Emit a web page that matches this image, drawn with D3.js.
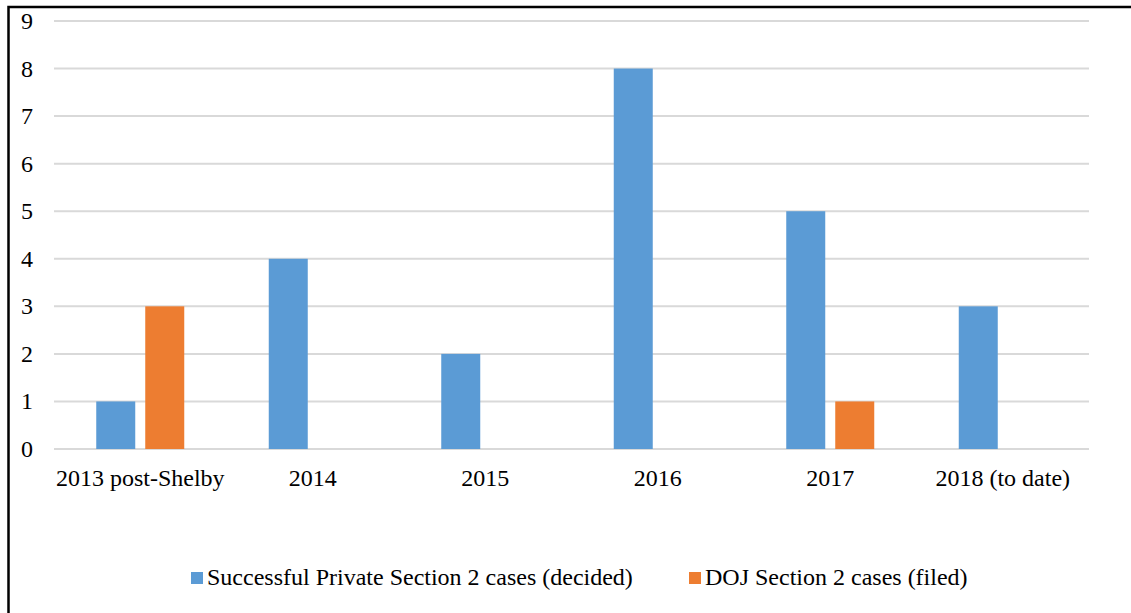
<!DOCTYPE html>
<html lang="en">
<head>
<meta charset="UTF-8">
<title>Section 2 cases</title>
<script src="https://d3js.org/d3.v7.min.js"></script>
<style>
    body { margin: 0; background: #fff; }
    svg { display: block; }
    text {
        font-family: "Liberation Serif", "Times New Roman", serif;
        font-size: 24px;
        fill: #000;
    }
</style>
</head>
<body>
<svg width="1131" height="613"></svg>
<script>
    const categories = ["2013 post-Shelby", "2014", "2015", "2016", "2017", "2018 (to date)"];
    const privateCases = [1, 4, 2, 8, 5, 3];
    const dojCases = [3, 0, 0, 0, 1, 0];
    const seriesNames = ["Successful Private Section 2 cases (decided)", "DOJ Section 2 cases (filed)"];
    const colors = ["#5B9BD5", "#ED7D31"];
    const yTicks = [0, 1, 2, 3, 4, 5, 6, 7, 8, 9];

    const svg = d3.select("svg");

    // frame: left and top edges only
    svg.append("path")
        .attr("d", "M8.5,613V7H1131")
        .attr("fill", "none")
        .attr("stroke", "#000")
        .attr("stroke-width", 2.5);

    const plotLeft = 54, plotRight = 1089, plotTop = 21, plotBottom = 449;

    const x = d3.scaleBand().domain(categories).range([plotLeft, plotRight]);
    const y = d3.scaleLinear().domain([0, 9]).range([plotBottom, plotTop]);

    // gridlines
    svg.append("g").selectAll("line")
        .data(yTicks)
        .join("line")
        .attr("x1", plotLeft).attr("x2", plotRight)
        .attr("y1", d => y(d)).attr("y2", d => y(d))
        .attr("stroke", "#d9d9d9")
        .attr("stroke-width", 2);

    // y labels
    svg.append("g").selectAll("text")
        .data(yTicks)
        .join("text")
        .attr("x", 33)
        .attr("y", d => y(d) + 8)
        .attr("text-anchor", "end")
        .text(d => d);

    // bars
    const barW = 39, gap = 10;
    const series = [privateCases, dojCases];
    series.forEach((vals, si) => {
        svg.append("g").selectAll("rect")
            .data(categories.map((c, i) => ({ c, v: vals[i] })).filter(d => d.v > 0))
            .join("rect")
            .attr("x", d => x(d.c) + x.bandwidth() / 2 + (si === 0 ? -gap / 2 - barW : gap / 2))
            .attr("y", d => y(d.v))
            .attr("width", barW)
            .attr("height", d => y(0) - y(d.v))
            .attr("fill", colors[si]);
    });

    // category labels
    svg.append("g").selectAll("text")
        .data(categories)
        .join("text")
        .attr("x", d => x(d) + x.bandwidth() / 2)
        .attr("y", 486)
        .attr("text-anchor", "middle")
        .text(d => d);

    // legend
    const legendX = [191, 689];
    const legend = svg.append("g").selectAll("g")
        .data(seriesNames)
        .join("g")
        .attr("transform", (d, i) => `translate(${legendX[i]},572)`);
    legend.append("rect")
        .attr("width", 12).attr("height", 12)
        .attr("fill", (d, i) => colors[i]);
    legend.append("text")
        .attr("x", 16).attr("y", 13)
        .text(d => d);
</script>
</body>
</html>
